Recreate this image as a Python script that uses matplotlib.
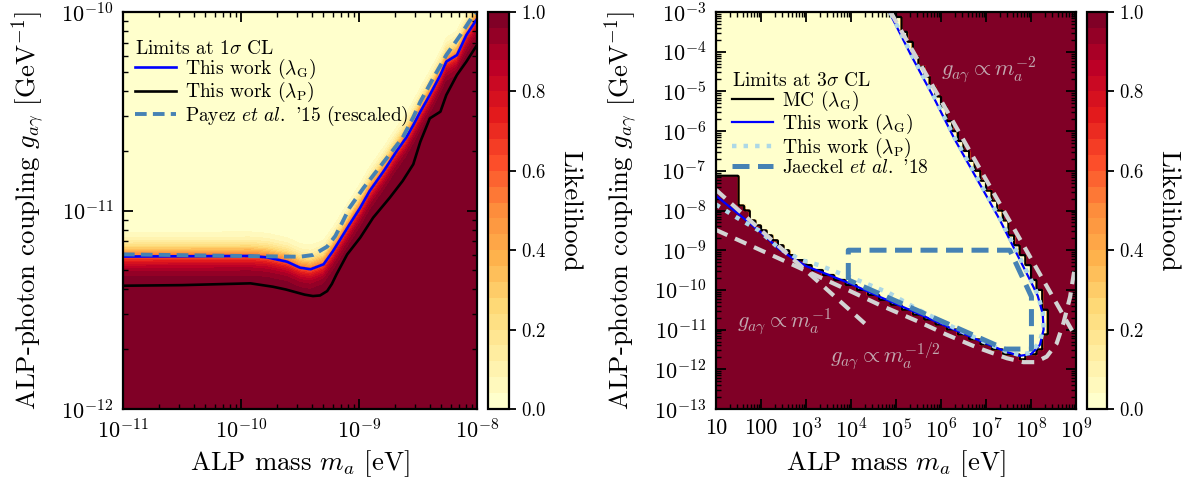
import numpy as np
import matplotlib.pyplot as plt
from matplotlib.path import Path
from matplotlib.lines import Line2D
from matplotlib.ticker import LogLocator, NullFormatter

plt.rcParams['font.family'] = 'serif'
plt.rcParams['font.serif'] = ['cmr10']
plt.rcParams['mathtext.fontset'] = 'cm'
plt.rcParams['axes.formatter.use_mathtext'] = True
plt.rcParams['axes.unicode_minus'] = False

# values are log10(m_a / eV) and log10(g / GeV^-1)

# ---- left panel: limits at 1 sigma
lm_blue_1s = [-11.0, -9.92, -9.78, -9.61, -9.50, -9.41, -9.30, -9.22, -9.15, -9.08, -8.99,
              -8.91, -8.79, -8.68, -8.60, -8.54, -8.48, -8.40, -8.31, -8.26, -8.17, -8.09, -8.0]
lg_blue_1s = [-11.232, -11.229, -11.236, -11.258, -11.288, -11.296, -11.271, -11.204, -11.137,
              -11.070, -10.986, -10.902, -10.801, -10.700, -10.633, -10.570, -10.502, -10.418,
              -10.317, -10.250, -10.217, -10.116, -10.035]
lm_black_1s = [-11.0, -10.5, -9.92, -9.73, -9.62, -9.54, -9.46, -9.39, -9.33, -9.27, -9.23, -9.19,
               -9.10, -8.99, -8.88, -8.74, -8.63, -8.54, -8.48, -8.40, -8.31, -8.26, -8.17,
               -8.09, -8.0]
lg_black_1s = [-11.379, -11.376, -11.367, -11.384, -11.398, -11.411, -11.424, -11.431, -11.428,
               -11.406, -11.37, -11.321, -11.221, -11.137, -11.036, -10.936, -10.851, -10.767,
               -10.653, -10.536, -10.502, -10.418, -10.317, -10.250, -10.166]
lm_payez = [-11.0, -9.5, -9.39, -9.27, -9.20, -9.14, -9.08, -8.96, -8.85, -8.74, -8.63, -8.54,
            -8.48, -8.37, -8.26, -8.14, -8.03, -7.99]
lg_payez = [-11.221, -11.233, -11.224, -11.182, -11.128, -11.058, -10.986, -10.885, -10.801,
            -10.717, -10.633, -10.53, -10.452, -10.332, -10.217, -10.116, -10.015, -9.99]

# ---- right panel: limits at 3 sigma
lm_blue_3s = [1.00, 1.60, 2.00, 2.40, 2.70, 3.00, 3.50, 4.00, 4.65, 5.40, 6.15, 6.90, 7.45, 7.75,
              8.00, 8.20, 8.28, 8.26, 8.15, 8.00, 7.80, 7.60, 7.30, 6.80, 6.30, 5.85, 5.33, 4.85]
lg_blue_3s = [-7.63, -8.18, -8.55, -8.97, -9.20, -9.40, -9.62, -9.85, -10.18, -10.55, -10.93,
              -11.30, -11.56, -11.66, -11.62, -11.38, -11.00, -10.60, -10.15, -9.80, -9.35,
              -8.90, -8.22, -7.21, -6.20, -5.18, -4.08, -3.00]
lm_dot_3s = [1.00, 1.45, 1.95, 2.40, 2.90, 3.30, 3.70, 4.25, 4.85, 5.50, 6.20, 6.90, 7.45, 7.75,
             8.00, 8.20, 8.28, 8.26, 8.15, 8.00, 7.80, 7.60, 7.30, 6.80, 6.30, 5.85, 5.33, 4.87]
lg_dot_3s = [-7.85, -8.17, -8.50, -8.95, -9.25, -9.38, -9.56, -9.80, -10.08, -10.50, -10.90,
             -11.28, -11.55, -11.64, -11.58, -11.30, -10.95, -10.55, -10.12, -9.75, -9.30,
             -8.85, -8.18, -7.17, -6.16, -5.14, -4.04, -3.00]
# edge of the MC excluded region (likelihood ~ 0 inside)
lm_mc = [0.9, 4.95, 5.43, 5.95, 6.40, 6.90, 7.40, 7.70, 7.90, 8.10, 8.25, 8.33, 8.35, 8.27, 8.05,
         7.75, 7.45, 6.90, 6.15, 5.40, 4.65, 4.00, 3.50, 3.00, 2.70, 2.40, 2.00, 1.60, 1.47, 1.47, 0.9]
lg_mc = [-2.9, -2.9, -4.08, -5.18, -6.20, -7.21, -8.22, -8.90, -9.35, -9.80, -10.15, -10.60,
         -11.00, -11.40, -11.66, -11.70, -11.59, -11.33, -10.96, -10.58, -10.21, -9.86, -9.60,
         -9.36, -9.12, -8.90, -8.46, -7.90, -7.78, -7.15, -7.15]
lm_jaeckel = [3.94, 3.94, 7.53, 8.01, 8.01, 7.42, 3.94]
lg_jaeckel = [-9.75, -9.0, -9.0, -10.17, -11.49, -11.49, -9.75]
lm_m2 = [4.88, 9.0]
lg_m2 = [-3.0, -11.2]
lm_m1 = [1.0, 4.31]
lg_m1 = [-7.48, -10.85]
lm_mhalf = [1.0, 2.5, 4.0, 4.64, 5.5, 6.13, 6.8, 7.46, 7.83, 8.1, 8.35, 8.57, 8.72, 8.87, 8.95, 9.0]
lg_mhalf = [-8.49, -9.26, -10.04, -10.38, -10.80, -11.13, -11.45, -11.72, -11.82, -11.82, -11.68,
            -11.35, -10.84, -10.17, -9.60, -9.35]

x2_ticks = [1, 2, 3, 4, 5, 6, 7, 8, 9]
x2_labels = ['10', '100', '$10^3$', '$10^4$', '$10^5$', '$10^6$', '$10^7$', '$10^8$', '$10^9$']
cb_ticks = [0.0, 0.2, 0.4, 0.6, 0.8, 1.0]

cmap = plt.get_cmap('YlOrRd', 25)
levels = np.linspace(0, 1, 26)
fs_lab = 19.3
fs_tick = 16
fs_leg = 14


def style_axes(ax):
    ax.set_xscale('log')
    ax.set_yscale('log')
    ax.tick_params(which='both', direction='in', top=True, right=True, labelsize=fs_tick)
    ax.tick_params(which='major', length=7, width=1.3, pad=7)
    ax.tick_params(which='minor', length=3.5, width=1.0)
    for s in ax.spines.values():
        s.set_linewidth(1.6)


def style_cbar(cb):
    cb.set_ticks(cb_ticks)
    cb.ax.tick_params(labelsize=13.5, length=5, width=1.3, direction='out')
    cb.outline.set_linewidth(1.6)
    cb.set_label('Likelihood', rotation=270, fontsize=fs_lab, labelpad=26)


def add_legend(ax, handles, title, anchor):
    ax.legend(handles=handles, loc='upper left', bbox_to_anchor=anchor, frameon=False,
              title=title, alignment='left', fontsize=fs_leg, title_fontsize=fs_leg,
              borderpad=0, borderaxespad=0, handlelength=2.1, labelspacing=-0.04,
              handletextpad=0.45)


fig = plt.figure(figsize=(11.85, 4.88), dpi=100)
H = 488.0
W = 1185.0
ax1 = fig.add_axes([123 / W, 79 / H, 354 / W, 397 / H])
cax1 = fig.add_axes([488 / W, 79 / H, 21 / W, 397 / H])
ax2 = fig.add_axes([716 / W, 79 / H, 360 / W, 397 / H])
cax2 = fig.add_axes([1087 / W, 79 / H, 20 / W, 397 / H])

# ----- left
style_axes(ax1)
mm = np.linspace(-11, -8, 300)
gg = np.linspace(-12, -10, 300)
M, G = np.meshgrid(mm, gg)
d = G - np.interp(M, lm_blue_1s, lg_blue_1s)
like1 = 1.0 / (1.0 + np.exp((d - 0.01) / 0.035))
cs1 = ax1.contourf(10**M, 10**G, like1, levels=levels, cmap=cmap)

b1, = ax1.plot(10**np.array(lm_blue_1s), 10**np.array(lg_blue_1s), color='blue', lw=1.9,
               label=r'This work ($\lambda_\mathrm{G}$)')
k1, = ax1.plot(10**np.array(lm_black_1s), 10**np.array(lg_black_1s), color='k', lw=1.9,
               label=r'This work ($\lambda_\mathrm{P}$)')
p1, = ax1.plot(10**np.array(lm_payez), 10**np.array(lg_payez), color='steelblue', lw=2.8,
               ls=(0, (3, 1.6)), label=r"Payez $\mathit{et\ al.}$ '15 (rescaled)")
ax1.set_xlim(1e-11, 1e-8)
ax1.set_ylim(1e-12, 1e-10)
ax1.set_xlabel(r'ALP mass $m_a$ [eV]', fontsize=fs_lab)
ax1.set_ylabel(r'ALP-photon coupling $g_{a\gamma}$ [GeV$^{-1}$]', fontsize=fs_lab, labelpad=10)
add_legend(ax1, [b1, k1, p1], r'Limits at 1$\sigma$ CL', (0.035, 0.93))
cb1 = fig.colorbar(cs1, cax=cax1)
style_cbar(cb1)

# ----- right
style_axes(ax2)
n_m, n_g = 64, 80
em = np.linspace(1, 9, n_m + 1)
eg = np.linspace(-13, -3, n_g + 1)
CM, CG = np.meshgrid(0.5 * (em[1:] + em[:-1]), 0.5 * (eg[1:] + eg[:-1]))
inside = Path(np.column_stack([lm_mc, lg_mc])).contains_points(
    np.column_stack([CM.ravel(), CG.ravel()])).reshape(CM.shape)
like2 = np.where(inside, 0.0, 1.0)
k = 4
fine = np.kron(like2, np.ones((k, k)))
em_f = np.linspace(1, 9, n_m * k + 1)
eg_f = np.linspace(-13, -3, n_g * k + 1)
p = np.pad(fine, 1, mode='edge')
soft = sum(p[i:i + fine.shape[0], j:j + fine.shape[1]] for i in range(3) for j in range(3)) / 9.0
pm = ax2.pcolormesh(10**em_f, 10**eg_f, soft, cmap=cmap, vmin=0, vmax=1, rasterized=True)
cm_f = 0.5 * (em_f[1:] + em_f[:-1])
cg_f = 0.5 * (eg_f[1:] + eg_f[:-1])
ax2.contour(10**cm_f, 10**cg_f, fine, levels=[0.5], colors='k', linewidths=1.6)

l_blue, = ax2.plot(10**np.array(lm_blue_3s), 10**np.array(lg_blue_3s), color='blue', lw=1.6,
                   label=r'This work ($\lambda_\mathrm{G}$)')
l_dot, = ax2.plot(10**np.array(lm_dot_3s), 10**np.array(lg_dot_3s), color='lightblue', lw=3.2,
                  ls=(0, (1, 1.6)), label=r'This work ($\lambda_\mathrm{P}$)')
l_jae, = ax2.plot(10**np.array(lm_jaeckel), 10**np.array(lg_jaeckel), color='steelblue', lw=3.6,
                  ls=(0, (3.4, 1.7)), label=r"Jaeckel $\mathit{et\ al.}$ '18")
for xs, ys in [(lm_m2, lg_m2), (lm_m1, lg_m1), (lm_mhalf, lg_mhalf)]:
    ax2.plot(10**np.array(xs), 10**np.array(ys), color='lightgray', lw=3.0, ls=(0, (3, 2)))

txt = dict(color='lightgray', alpha=0.8, fontsize=16, ha='left', va='center')
ax2.text(10**6.0, 10**-4.45, r'$g_{a\gamma}\propto m_a^{-2}$', **txt)
ax2.text(10**1.46, 10**-10.8, r'$g_{a\gamma}\propto m_a^{-1}$', **txt)
ax2.text(10**3.53, 10**-11.68, r'$g_{a\gamma}\propto m_a^{-1/2}$', **txt)

ax2.set_xlim(10, 1e9)
ax2.set_ylim(1e-13, 1e-3)
ax2.set_xticks([10.0**v for v in x2_ticks])
ax2.set_xticklabels(x2_labels)
ax2.xaxis.set_minor_locator(LogLocator(base=10, subs=np.arange(2, 10), numticks=100))
ax2.xaxis.set_minor_formatter(NullFormatter())
ax2.yaxis.set_major_locator(LogLocator(base=10, numticks=20))
ax2.yaxis.set_minor_locator(LogLocator(base=10, subs=np.arange(2, 10), numticks=200))
ax2.yaxis.set_minor_formatter(NullFormatter())
ax2.set_xlabel(r'ALP mass $m_a$ [eV]', fontsize=fs_lab)
ax2.set_ylabel(r'ALP-photon coupling $g_{a\gamma}$ [GeV$^{-1}$]', fontsize=fs_lab, labelpad=10)
mc_handle = Line2D([], [], color='k', lw=1.6, label=r'MC ($\lambda_\mathrm{G}$)')
add_legend(ax2, [mc_handle, l_blue, l_dot, l_jae], r'Limits at 3$\sigma$ CL', (0.045, 0.85))
cb2 = fig.colorbar(pm, cax=cax2)
style_cbar(cb2)

fig.savefig('out.png', dpi=100)
